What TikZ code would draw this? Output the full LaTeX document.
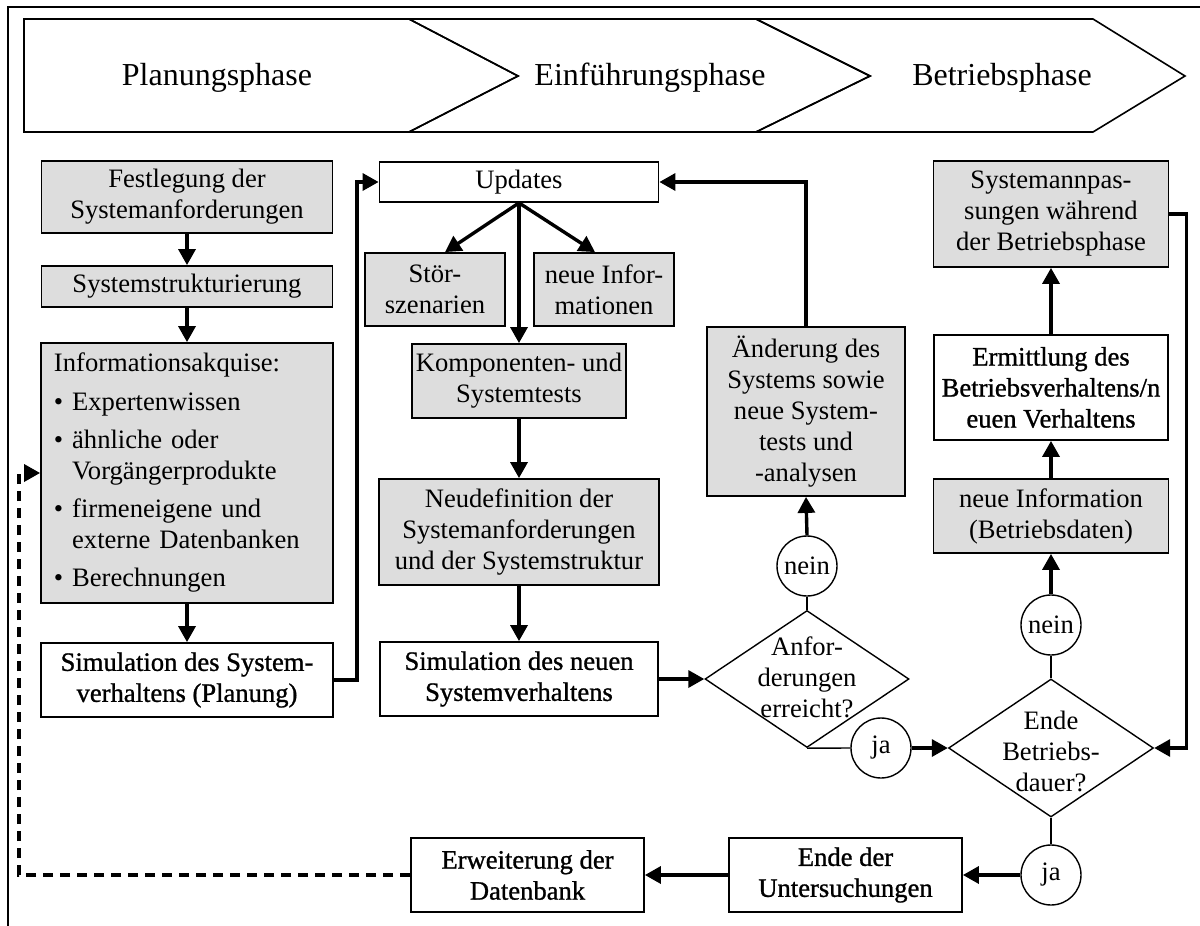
\documentclass[tikz,border=0pt]{standalone}
\usepackage{fontspec}
\setmainfont{Liberation Serif}
\newfontfamily\heavyfont[FakeBold=1]{Liberation Serif}
\usetikzlibrary{arrows.meta,shapes.geometric,calc}

\definecolor{boxgray}{RGB}{221,221,221}
\newcommand\boxfont{\fontsize{13.3}{15.5}\selectfont}
\newcommand\boxfontheavy{\heavyfont\fontsize{13.3}{15.5}\selectfont}
\newcommand\phasefont{\fontsize{16}{19}\selectfont}

\begin{document}
\begin{tikzpicture}[x=0.5pt,y=-0.5pt,
  box/.style={draw, line width=0.9pt, inner sep=0pt, align=center, font=\boxfont},
  gbox/.style={box, fill=boxgray},
  wbox/.style={box, fill=white, font=\boxfontheavy},
  dia/.style={draw, shape=diamond, line width=0.7pt, inner sep=0pt, fill=white},
  circ/.style={draw, circle, line width=0.7pt, inner sep=0pt, minimum size=30pt, fill=white, font=\boxfont},
  arr/.style={line width=1.7pt, -{Triangle[length=8pt,width=8.5pt]}},
  thinline/.style={line width=0.7pt},
  feedback/.style={arr, dash pattern=on 5pt off 3.5pt},
  phase/.style={line width=0.8pt},
  phasetext/.style={anchor=base, font=\phasefont}
]
\useasboundingbox (0,0) rectangle (1200,926);

% outer frame
\draw[line width=0.6pt] (8,926) -- (8,7) -- (1200,7);

% phase banner
\draw[phase] (24,19) -- (409,19) -- (518,76) -- (409,132) -- (24,132) -- cycle;
\draw[phase] (409,19) -- (756,19) -- (870,76) -- (756,132) -- (409,132) -- (518,76) -- cycle;
\draw[phase] (756,19) -- (1093,19) -- (1185,76) -- (1093,132) -- (756,132) -- (870,76) -- cycle;
\node[phasetext] (p1) at (217,85) {Planungsphase};
\node[phasetext] (p2) at (650,85) {Einführungsphase};
\node[phasetext] (p3) at (1002,85) {Betriebsphase};

% planning column
\node[gbox, minimum width=145.5pt, minimum height=36pt] (fest) at (187,197) {Festlegung der\\Systemanforderungen};
\node[gbox, minimum width=145.5pt, minimum height=20.5pt] (struk) at (187,286.5) {Systemstrukturierung};
\node[gbox, minimum width=146pt, minimum height=130pt, text width=133pt, align=left] (info) at (187,473) {%
Informationsakquise:\\[4pt]
\textbullet\ Expertenwissen\\[3.5pt]
\textbullet\ ähnliche oder\\
\hphantom{\textbullet\ }Vorgängerprodukte\\[3.5pt]
\textbullet\ firmeneigene und\\
\hphantom{\textbullet\ }externe Datenbanken\\[3.5pt]
\textbullet\ Berechnungen};
\node[wbox, minimum width=146pt, minimum height=37pt] (sim1) at (187,680) {Simulation des System-\\verhaltens (Planung)};

% introduction column
\node[box, fill=white, minimum width=139.5pt, minimum height=20pt] (upd) at (519,182) {Updates};
\node[gbox, minimum width=70pt, minimum height=36.5pt] (stoer) at (435,289.5) {Stör-\\szenarien};
\node[gbox, minimum width=70pt, minimum height=36.5pt] (neuinf) at (604,289.5) {neue Infor-\\mationen};
\node[gbox, minimum width=107pt, minimum height=37pt] (komp) at (519,381) {Komponenten- und\\Systemtests};
\node[gbox, minimum width=140pt, minimum height=53pt] (neudef) at (519,532) {Neudefinition der\\Systemanforderungen\\und der Systemstruktur};
\node[wbox, minimum width=139pt, minimum height=37pt] (sim2) at (519,679) {Simulation des neuen\\Systemverhaltens};
\node[gbox, minimum width=99pt, minimum height=84.5pt] (aend) at (806,411.5) {Änderung des\\Systems sowie\\neue System-\\tests und\\-analysen};

\node[dia, minimum width=102pt, minimum height=68.5pt] (anf) at (807,679) {};
\node[font=\boxfont, align=center, inner sep=0pt] (anftxt) at (807,677) {Anfor-\\derungen\\erreicht?};
\node[circ] (nein1) at (807,566) {nein};
\node[circ] (ja1) at (881,748) {ja};

% operation column
\node[gbox, minimum width=117.5pt, minimum height=53pt] (anp) at (1051,214) {Systemannpas-\\sungen während\\der Betriebsphase};
\node[wbox, minimum width=117pt, minimum height=52.5pt] (ermi) at (1051,387.5) {Ermittlung des\\Betriebsverhaltens/n\\euen Verhaltens};
\node[gbox, minimum width=117.5pt, minimum height=37pt] (neuinfo2) at (1051,516) {neue Information\\(Betriebsdaten)};
\node[circ] (nein2) at (1051,625) {nein};
\node[dia, minimum width=102.5pt, minimum height=69pt] (ende) at (1051,748) {};
\node[font=\boxfont, align=center, inner sep=0pt] (endetxt) at (1051,751) {Ende\\Betriebs-\\dauer?};
\node[circ] (ja2) at (1051,875) {ja};

% closing row
\node[wbox, minimum width=116.5pt, minimum height=37pt] (endeU) at (845.5,875) {Ende der\\Untersuchungen};
\node[wbox, minimum width=116.5pt, minimum height=37pt] (erw) at (527.5,875) {Erweiterung der\\Datenbank};

% connectors
\draw[arr] (fest.south) -- (struk.north);
\draw[arr] (struk.south) -- (info.north);
\draw[arr] (info.south) -- (sim1.north);
\draw[arr] (sim1.east) -- ++(23,0) |- (upd.west);
\draw[arr] (upd.south) -- ([xshift=5pt]stoer.north);
\draw[arr] (upd.south) -- ([xshift=-4.5pt]neuinf.north);
\draw[arr] (upd.south) -- (komp.north);
\draw[arr] (komp.south) -- (neudef.north);
\draw[arr] (neudef.south) -- (sim2.north);
\draw[arr] (sim2.east) -- (anf.west);
\draw[thinline] (anf.north) -- (nein1.south);
\draw[arr] (nein1.north) -- (aend.south);
\draw[arr] (aend.north) |- (upd.east);
\draw[thinline] (anf.south) -- (ja1.west);
\draw[arr] (ja1.east) -- (ende.west);
\draw[thinline] (ende.north) -- (nein2.south);
\draw[arr] (nein2.north) -- (neuinfo2.south);
\draw[arr] (neuinfo2.north) -- (ermi.south);
\draw[arr] (ermi.north) -- (anp.south);
\draw[arr] (anp.east) -- ++(17,0) |- (ende.east);
\draw[thinline] (ende.south) -- (ja2.north);
\draw[arr] (ja2.west) -- (endeU.east);
\draw[arr] (endeU.west) -- (erw.east);
\draw[feedback] (erw.west) -- ++(-391,0) |- (info.west);
\end{tikzpicture}
\end{document}
